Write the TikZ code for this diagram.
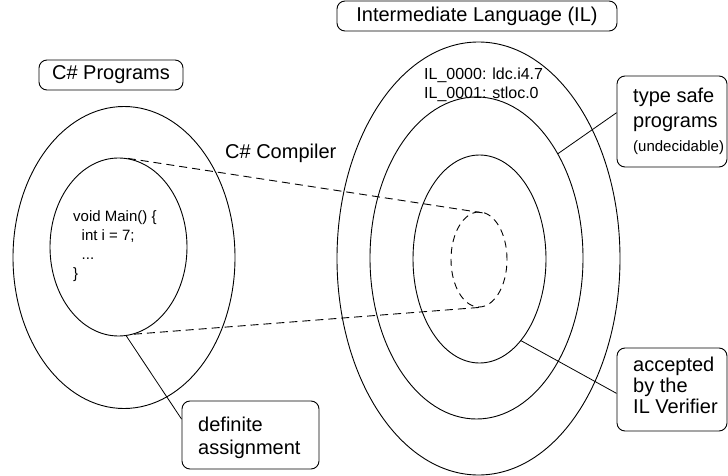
\documentclass[tikz,border=0pt]{standalone}
\usepackage{fontspec}
\setmainfont{Liberation Sans}
\usetikzlibrary{shapes.geometric}

\begin{document}
\begin{tikzpicture}[x=1pt,y=-1pt,
  ring/.style={draw, ellipse, inner sep=0pt, line width=0.9pt},
  callout/.style={draw, rounded corners=8pt, line width=0.9pt, inner sep=0pt},
  lbl/.style={font=\fontsize{20}{23}\selectfont, align=left, inner sep=0pt},
  code/.style={align=left, inner sep=0pt},
  lead/.style={line width=0.8pt},
  proj/.style={line width=0.9pt, dash pattern=on 8pt off 5pt}]
\useasboundingbox (0,0) rectangle (728,476);

% C# side: all programs and the definitely-assigned subset
\node[ring, minimum width=222, minimum height=302] (csOuter) at (124,257.5) {};
\node[ring, minimum width=137, minimum height=178] (csInner) at (118.5,247) {};

% IL side: nested program classes
\node[ring, minimum width=283, minimum height=433] (ilOuter) at (478.5,258.5) {};
\node[ring, minimum width=213, minimum height=322] (ilSafe) at (476.5,258) {};
\node[ring, minimum width=133, minimum height=208] (ilVer) at (479.5,259) {};
\node[ring, dash pattern=on 7pt off 5pt, minimum width=56, minimum height=95] (ilImg) at (479,259.5) {};

% titles
\node[callout, minimum width=144, minimum height=30, font=\fontsize{20}{23}\selectfont] (csTitle) at (111,75) {C\# Programs};
\node[callout, minimum width=280, minimum height=30, font=\fontsize{20}{23}\selectfont] (ilTitle) at (477,16) {Intermediate Language (IL)};

% callout boxes (multi-line text is placed by the baseline of its last line)
\node[callout, minimum width=110, minimum height=91] (tsBox) at (672,121.5) {};
\node[lbl, anchor=base west, font=\fontsize{20}{24.5}\selectfont] (tsText) at (633,152)
  {type safe\\programs\\{\fontsize{15}{18}\selectfont(undecidable)}};
\node[callout, minimum width=110, minimum height=83] (acBox) at (672,389.5) {};
\node[lbl, anchor=base west, font=\fontsize{20}{21}\selectfont] (acText) at (633,413)
  {accepted\\by the\\IL Verifier};
\node[callout, minimum width=137, minimum height=68] (daBox) at (250.5,435) {};
\node[lbl, anchor=base west] (daText) at (198,454.7) {definite\\assignment};

% free labels and code
\node[lbl, anchor=base west] (compiler) at (225,158) {C\# Compiler};
\node[code, anchor=base west, font=\fontsize{16}{19}\selectfont] (ilCode) at (424,99)
  {IL\_0000: ldc.i4.7\\IL\_0001: stloc.0};
\node[code, anchor=base west, font=\fontsize{15}{18.7}\selectfont] (csCode) at (73,278)
  {void Main() \{\\\hspace*{8.5pt}int i = 7;\\\hspace*{8.5pt}...\\\}};

% compilation projection
\draw[proj] (csInner.84) -- (ilImg.80);
\draw[proj] (csInner.-80) -- (ilImg.south);

% leader lines
\draw[lead] (csInner.-85) -- (daBox.167);
\draw[lead] (ilSafe.52) -- (tsBox.171);
\draw[lead] (ilVer.-63) -- (acBox.184);
\end{tikzpicture}
\end{document}
